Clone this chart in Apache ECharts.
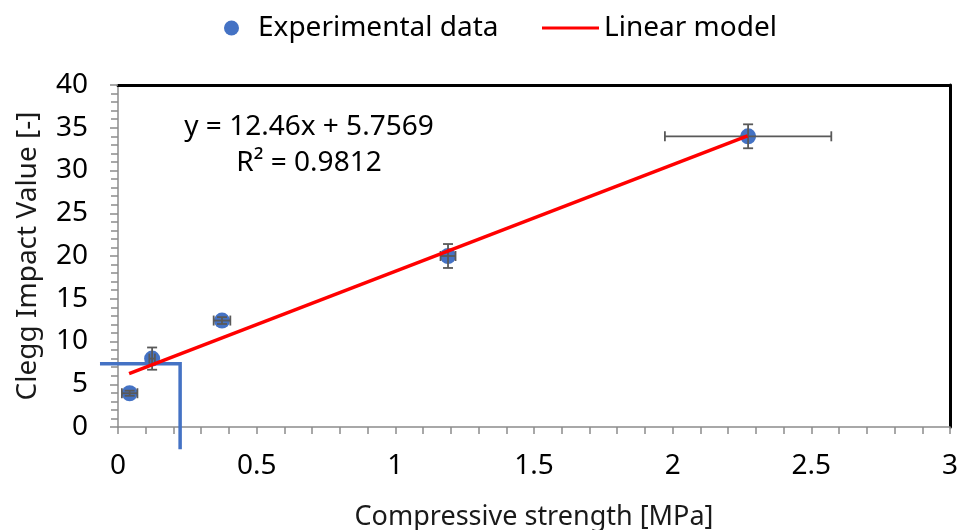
<!DOCTYPE html>
<html><head><meta charset="utf-8">
<script src="https://cdn.jsdelivr.net/npm/echarts@6/dist/echarts.min.js"></script>
<style>html,body{margin:0;padding:0;background:#fff}#c{width:963px;height:530px}</style>
</head><body><div id="c"></div>
<script>
// Experimental data: [compressive strength, Clegg impact value]
const expX = [0.042, 0.123, 0.375, 1.19, 2.272];
const expY = [3.95, 8.0, 12.45, 20.0, 34.0];
// Error bar half-widths
const errX = [0.028, 0.01, 0.03, 0.027, 0.30];
const errY = [0.3, 1.3, 0.4, 1.4, 1.4];
// Linear model endpoints
const modelX = [0.04, 2.27];
const modelY = [6.25, 34.04];
// Blue guide line
const guideX = [-0.065, 0.224, 0.224];
const guideY = [7.4, 7.4, -2.6];
const xTicks = [0, 0.5, 1, 1.5, 2, 2.5, 3];
const yTicks = [0, 5, 10, 15, 20, 25, 30, 35, 40];
const eqText = ['y = 12.46x + 5.7569', 'R² = 0.9812'];

const FONT = 'Noto Sans';
const FS = 28;
const chart = echarts.init(document.getElementById('c'));
const pts = expX.map((x, i) => [x, expY[i]]);
const errData = expX.map((x, i) => [x, expY[i], errX[i], errY[i]]);
const guideData = guideX.map((x, i) => [x, guideY[i]]);

chart.setOption({
  animation: false,
  textStyle: {fontFamily: FONT},
  grid: {left: 118, right: 13, top: 85, bottom: 103, containLabel: false, outerBoundsMode: 'none'},
  legend: [
    {data: [{name: 'Experimental data', icon: 'circle'}], left: 219, top: 9, itemWidth: 15, itemHeight: 15,
     textStyle: {fontSize: FS, color: '#000', fontFamily: FONT, padding: [0, 0, 0, 14]}},
    {data: [{name: 'Linear model', icon: 'rect'}], left: 537, top: 9, itemWidth: 57, itemHeight: 3,
     textStyle: {fontSize: FS, color: '#000', fontFamily: FONT}}
  ],
  xAxis: [{
    type: 'value', min: 0, max: 3, interval: 0.5,
    name: 'Compressive strength [MPa]', nameLocation: 'middle', nameGap: 77,
    nameTextStyle: {fontSize: 27, color: '#1a1a1a', fontFamily: FONT},
    axisLine: {show: true, lineStyle: {color: '#8c8c8c', width: 1.5}},
    axisTick: {show: true, length: 7, lineStyle: {color: '#8c8c8c', width: 1.5}},
    minorTick: {show: true, splitNumber: 5, length: 7, lineStyle: {color: '#8c8c8c', width: 1.5}},
    splitLine: {show: false},
    axisLabel: {fontSize: FS, color: '#000', margin: 25, fontFamily: FONT,
      formatter: v => (xTicks.indexOf(v) >= 0 ? String(v) : '')}
  }, {
    type: 'value', position: 'top', min: 0, max: 3,
    axisLine: {show: true, onZero: false, lineStyle: {color: '#000', width: 3}},
    axisTick: {show: false}, axisLabel: {show: false}, splitLine: {show: false}
  }],
  yAxis: [{
    type: 'value', min: 0, max: 40, interval: 5,
    name: 'Clegg Impact Value [-]', nameLocation: 'middle', nameGap: 76,
    nameTextStyle: {fontSize: FS, color: '#1a1a1a', fontFamily: FONT},
    axisLine: {show: true, lineStyle: {color: '#8c8c8c', width: 1.5}},
    axisTick: {show: true, length: 8, lineStyle: {color: '#8c8c8c', width: 1.5}},
    minorTick: {show: true, splitNumber: 5, length: 7, lineStyle: {color: '#8c8c8c', width: 1.5}},
    splitLine: {show: false},
    axisLabel: {fontSize: FS, color: '#000', margin: 30, fontFamily: FONT,
      formatter: v => (yTicks.indexOf(v) >= 0 ? String(v) : '')}
  }, {
    type: 'value', position: 'right', min: 0, max: 40,
    axisLine: {show: true, onZero: false, lineStyle: {color: '#000', width: 3}},
    axisTick: {show: false}, axisLabel: {show: false}, splitLine: {show: false}
  }],
  series: [
    {
      name: 'Guide', type: 'custom', data: [0], clip: false, silent: true, z: 4,
      renderItem: function (params, api) {
        const p = guideData.map(d => api.coord(d));
        return {type: 'polyline', shape: {points: p},
          style: {stroke: '#4472C4', lineWidth: 3.5, fill: null}};
      }
    },
    {
      name: 'Linear model', type: 'line', data: modelX.map((x, i) => [x, modelY[i]]),
      showSymbol: false, symbol: 'none', z: 6,
      itemStyle: {color: '#FF0000'},
      lineStyle: {color: '#FF0000', width: 3.5}
    },
    {
      name: 'Experimental data', type: 'scatter', data: pts, symbolSize: 16, z: 3,
      itemStyle: {color: '#4472C4', opacity: 1}
    },
    {
      name: 'errors', type: 'custom', data: errData, z: 5, clip: false, silent: true,
      renderItem: function (params, api) {
        const x = api.value(0), y = api.value(1), ex = api.value(2), ey = api.value(3);
        const l = api.coord([x - ex, y]), r = api.coord([x + ex, y]);
        const t = api.coord([x, y + ey]), b = api.coord([x, y - ey]);
        const cap = 5;
        const st = {stroke: '#595959', lineWidth: 1.8};
        const mk = (x1, y1, x2, y2) => ({type: 'line', shape: {x1, y1, x2, y2}, style: st});
        return {type: 'group', children: [
          mk(l[0], l[1], r[0], r[1]),
          mk(l[0], l[1] - cap, l[0], l[1] + cap),
          mk(r[0], r[1] - cap, r[0], r[1] + cap),
          mk(t[0], t[1], b[0], b[1]),
          mk(t[0] - cap, t[1], t[0] + cap, t[1]),
          mk(b[0] - cap, b[1], b[0] + cap, b[1])
        ]};
      }
    }
  ],
  graphic: [
    {type: 'text', x: 309, y: 127, style: {text: eqText[0], font: FS + 'px "Noto Sans"', fill: '#000', align: 'center', verticalAlign: 'middle'}},
    {type: 'text', x: 309, y: 163, style: {text: eqText[1], font: FS + 'px "Noto Sans"', fill: '#000', align: 'center', verticalAlign: 'middle'}}
  ]
});
</script></body></html>
